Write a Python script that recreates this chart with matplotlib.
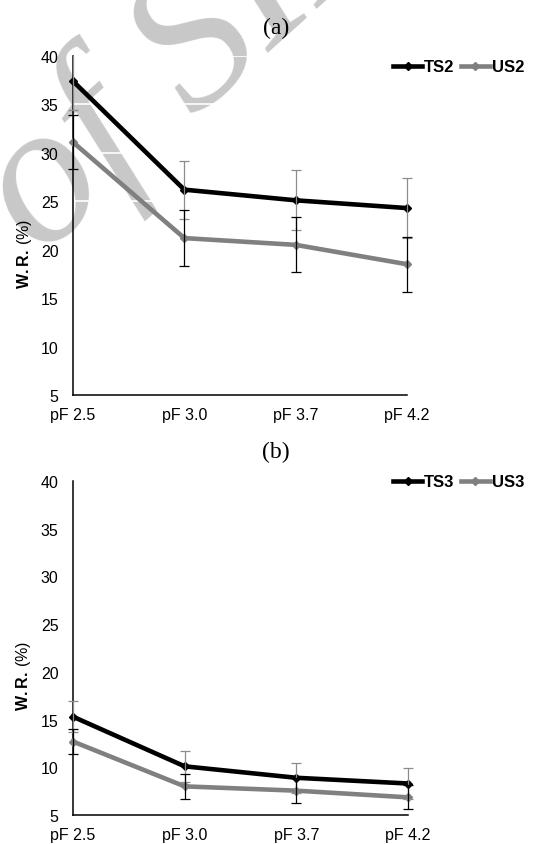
import numpy as np
import matplotlib.pyplot as plt
from matplotlib.transforms import Bbox, TransformedBbox

plt.rcParams['font.family'] = ['Liberation Sans', 'DejaVu Sans']
plt.rcParams['mathtext.fontset'] = 'custom'
plt.rcParams['mathtext.rm'] = 'Liberation Sans'
plt.rcParams['mathtext.bf'] = 'Liberation Sans:bold'

# data
pf_labels = ['pF 2.5', 'pF 3.0', 'pF 3.7', 'pF 4.2']
yticks = [5, 10, 15, 20, 25, 30, 35, 40]

ts2 = [37.4, 26.2, 25.1, 24.3]
ts2_err = [3.0, 3.0, 3.1, 3.1]
us2 = [31.1, 21.2, 20.5, 18.5]
us2_err = [2.8, 2.9, 2.85, 2.85]

ts3 = [15.3, 10.1, 8.9, 8.3]
ts3_err = [1.6, 1.6, 1.6, 1.6]
us3 = [12.7, 8.0, 7.55, 6.85]
us3_err = [1.3, 1.3, 1.3, 1.25]

W, H = 541, 845
fig = plt.figure(figsize=(W / 100, H / 100), dpi=100)

# faint watermark behind everything
fig.text(0.075, 0.695, 'of SID', fontsize=145, family='Liberation Serif',
         style='italic', color='#c8c8c8', rotation=42, rotation_mode='anchor',
         ha='left', va='baseline', zorder=-5)


def panel(rect, ts, ts_err, us, us_err, names, title, title_y, leg_y):
    ax = fig.add_axes(rect)
    ax.set_facecolor('none')
    x = np.arange(len(pf_labels))
    clip = TransformedBbox(Bbox([[-0.08, 5], [3.08, 40]]), ax.transData)

    l_us, = ax.plot(x, us, color='#808080', lw=3.3, marker='D', ms=4,
                    label=names[1], zorder=3)
    l_ts, = ax.plot(x, ts, color='black', lw=3.3, marker='D', ms=4,
                    label=names[0], zorder=4)
    e_ts = ax.errorbar(x, ts, yerr=ts_err, fmt='none', ecolor='#8c8c8c',
                       elinewidth=0.9, capsize=3.5, capthick=0.9, zorder=5)
    e_us = ax.errorbar(x, us, yerr=us_err, fmt='none', ecolor='black',
                       elinewidth=0.9, capsize=3.5, capthick=0.9, zorder=5)
    for art in [l_us, l_ts]:
        art.set_clip_box(clip)
    for cont in [e_ts, e_us]:
        for art in cont.lines[1]:
            art.set_clip_box(clip)
        for art in cont.lines[2]:
            art.set_clip_box(clip)

    ax.set_xlim(0, 3)
    ax.set_ylim(5, 40)
    ax.set_xticks(x)
    ax.set_xticklabels(pf_labels)
    ax.set_yticks(yticks)
    ax.tick_params(axis='both', length=0, labelsize=11.5)
    ax.tick_params(axis='y', pad=10.5)
    ax.tick_params(axis='x', pad=8.5)
    ax.yaxis.grid(True, color='white', lw=1.2)
    ax.set_axisbelow(True)
    for s in ['top', 'right']:
        ax.spines[s].set_visible(False)
    for s in ['left', 'bottom']:
        ax.spines[s].set_linewidth(1.1)

    ax.set_ylabel(r'$\mathbf{W.R.}\,$(%)', fontsize=11.5)
    ax.yaxis.set_label_coords(-0.118, 0.42)

    fig.text(276 / W, title_y, title, family='Liberation Serif', fontsize=17,
             ha='center', va='center')
    ax.legend(handles=[l_ts, l_us], loc='center left',
              bbox_to_anchor=(393 / W, leg_y), bbox_transform=fig.transFigure,
              ncol=2, frameon=False, borderpad=0, borderaxespad=0,
              handlelength=1.75, handletextpad=0.1, columnspacing=0.4,
              numpoints=1, prop={'weight': 'bold', 'size': 12})
    return ax


panel([73 / W, 1 - 396 / H, 334 / W, 339 / H], ts2, ts2_err, us2, us2_err,
      ['TS2', 'US2'], '(a)', 1 - 28 / H, 1 - 68 / H)
panel([73 / W, 1 - 816 / H, 335 / W, 334 / H], ts3, ts3_err, us3, us3_err,
      ['TS3', 'US3'], '(b)', 1 - 452 / H, 1 - 483 / H)

fig.savefig('out.png', dpi=100)
